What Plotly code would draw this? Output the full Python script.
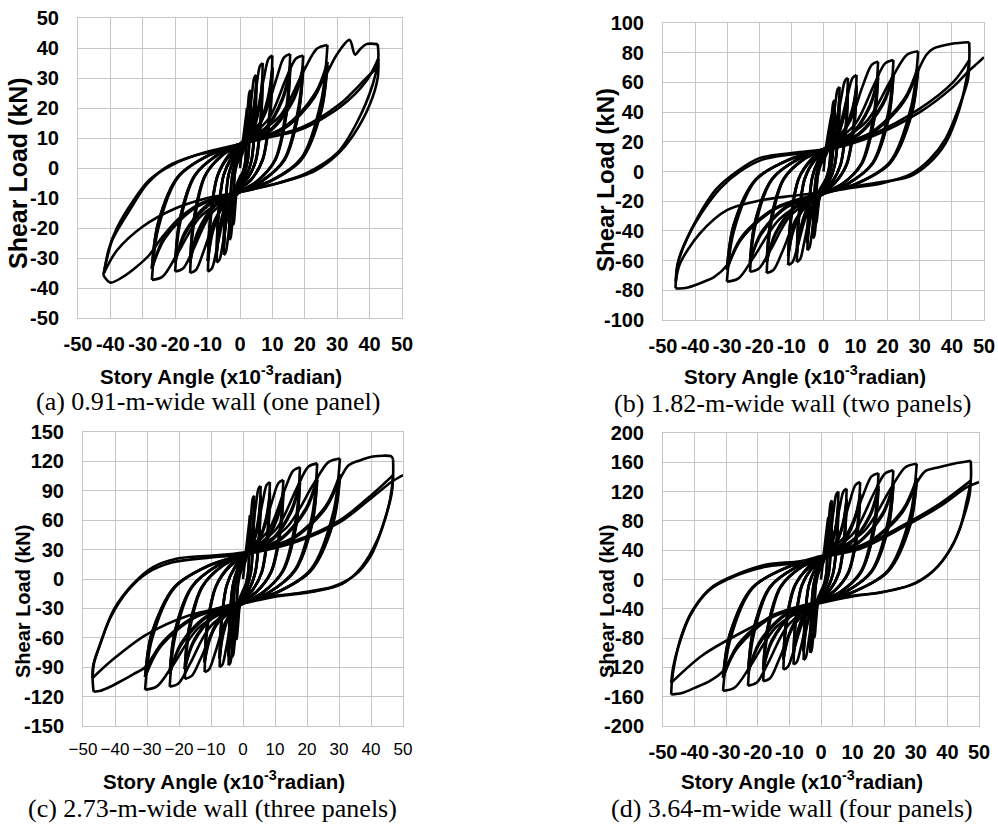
import plotly.graph_objects as go

# ---------------- data (story angle x1e-3 rad, shear load kN) ----------------
# each inner list is one loading branch, from one peak to the next
curve_a = [
 [(0,0),(0.8,8),(1.6,15),(2.2,20)],
 [(2.2,20),(2.05,11),(1.54,1.6),(0.77,-1.65),(0,-3),(-1.0,-7.5),(-1.58,-14.5),(-1.94,-18.4),(-2.2,-19)],
 [(-2.2,-19),(-2.05,-10.5),(-1.54,-1.5),(-0.77,1.65),(0,3),(1.1,5.9),(1.87,11.7),(2.2,17.5)],
 [(2.2,17.5),(2.05,9.6),(1.54,1.4),(0.77,-1.65),(0,-3),(-1.1,-5.8),(-1.87,-11.4),(-2.2,-17)],
 [(-2.2,-17),(-2.05,-9.4),(-1.54,-1.4),(-0.77,2.2),(0,4),(1.49,10.2),(2.38,19.8),(2.9,25.2),(3.3,26)],
 [(3.3,26),(3.07,14.3),(2.31,2.1),(1.16,-2.2),(0,-4),(-1.49,-9.6),(-2.38,-18.4),(-2.9,-23.3),(-3.3,-24)],
 [(-3.3,-24),(-3.07,-13.2),(-2.31,-1.9),(-1.16,2.2),(0,4),(1.65,7.8),(2.8,15.4),(3.3,23)],
 [(3.3,23),(3.07,12.7),(2.31,1.8),(1.16,-2.2),(0,-4),(-1.65,-7.4),(-2.8,-14.2),(-3.3,-21)],
 [(-3.3,-21),(-3.07,-11.6),(-2.31,-1.7),(-1.16,2.75),(0,5),(2.25,12.3),(3.6,23.7),(4.4,30.1),(5,31)],
 [(5,31),(4.65,17),(3.5,2.5),(1.75,-2.75),(0,-5),(-2.25,-11.7),(-3.6,-22.3),(-4.4,-28.1),(-5,-29)],
 [(-5,-29),(-4.65,-16),(-3.5,-2.3),(-1.75,2.75),(0,5),(2.5,9.5),(4.25,18.5),(5,27.5)],
 [(5,27.5),(4.65,15.1),(3.5,2.2),(1.75,-2.75),(0,-5),(-2.5,-9.2),(-4.25,-17.6),(-5,-26)],
 [(-5,-26),(-4.65,-14.3),(-3.5,-2.1),(-1.75,3.3),(0,6),(3.15,14.1),(5.04,26.9),(6.16,34),(7,35)],
 [(7,35),(6.5,19.3),(4.9,2.8),(2.45,-3.3),(0,-6),(-3.24,-13.1),(-5.18,-24.4),(-6.34,-30.6),(-7.2,-31.5)],
 [(-7.2,-31.5),(-6.7,-17.3),(-5.04,-2.5),(-2.52,3.3),(0,6),(3.5,11),(5.95,21),(7,31)],
 [(7,31),(6.5,17),(4.9,2.5),(2.45,-3.3),(0,-6),(-3.6,-10.5),(-6.12,-19.5),(-7.2,-28.5)],
 [(-7.2,-28.5),(-6.7,-15.7),(-5.04,-2.3),(-2.52,3.85),(0,7),(4.5,15.5),(7.2,29),(8.8,36.4),(10,37.5)],
 [(10,37.5),(9.3,20.6),(7,3),(3.5,-3.85),(0,-7),(-4.46,-14.7),(-7.13,-26.8),(-8.7,-33.5),(-9.9,-34.5)],
 [(-9.9,-34.5),(-9.2,-19),(-6.93,-2.8),(-3.47,3.85),(0,7),(5,12.3),(8.5,22.9),(10,33.5)],
 [(10,33.5),(9.3,18.4),(7,2.7),(3.5,-3.85),(0,-7),(-4.95,-11.8),(-8.4,-21.4),(-9.9,-31)],
 [(-9.9,-31),(-9.2,-17),(-6.93,-2.5),(-3.47,4.4),(0,8),(6.98,16.4),(11.2,29.6),(13.6,36.9),(15.5,38)],
 [(15.5,38),(14.4,20.9),(10.9,3),(5.4,-4.4),(0,-8),(-6.93,-15.6),(-11.1,-27.4),(-13.6,-34),(-15.4,-35)],
 [(-15.4,-35),(-14.3,-19.3),(-10.8,-2.8),(-5.4,4.4),(0,8),(7.75,13.2),(13.2,23.6),(15.5,34)],
 [(15.5,34),(14.4,18.7),(10.9,2.7),(5.4,-4.4),(0,-8),(-7.7,-12.7),(-13.1,-22.1),(-15.4,-31.5)],
 [(-15.4,-31.5),(-14.3,-17.3),(-10.8,-2.5),(-5.4,4.4),(0,8),(8.8,16.3),(14,29.2),(17.2,36.4),(19.5,37.5)],
 [(19.5,37.5),(18.1,20.6),(13.7,3),(6.8,-4.4),(0,-8),(-9,-15.4),(-14.4,-27.1),(-17.6,-33.5),(-20,-34.5)],
 [(-20,-34.5),(-18.6,-19),(-14,-2.8),(-7,4.4),(0,8),(9.75,13.2),(16.6,23.6),(19.5,34)],
 [(19.5,34),(18.1,18.7),(13.7,2.7),(6.8,-4.4),(0,-8),(-10,-12.7),(-17,-22.1),(-20,-31.5)],
 [(-20,-31.5),(-18.6,-17.3),(-14,-2.5),(-7,4.4),(0,8),(12.2,17.2),(19.4,31.8),(23.8,39.8),(27,41)],
 [(27,41),(25.1,22.6),(18.9,3.3),(9.45,-4.4),(0,-8),(-12.2,-16.2),(-19.6,-29.1),(-23.9,-36.2),(-27.2,-37.3)],
 [(-27.2,-37.3),(-25.3,-20.5),(-19,-3),(-9.5,4.4),(0,8),(13.5,13.5),(23,24.4),(27,35.4)],
 [(27,35.4),(25.1,19.5),(18.9,2.8),(9.45,-4.4),(0,-8),(-13.6,-13.1),(-23.1,-23.3),(-27.2,-33.5)],
 [(-27.2,-33.5),(-25.3,-18.4),(-19,-2.7),(-9.5,4.4),(0,8),(12,12.5),(20,20),(26,30),(30,38),(33.8,42.7),(35.5,37.8),(37,39.5),(39,41.3),(42.5,41.3)],
 [(42.5,41.3),(42.7,37),(41,28),(36,15),(30,5),(20,-2),(10,-5.5),(0,-8),(-10,-11),(-18,-16),(-24,-23),(-28,-29),(-32,-33),(-36,-36.2),(-40,-38.2),(-42.2,-35.7)],
 [(-42.2,-35.7),(-41,-30),(-39.4,-24),(-34,-14),(-28.8,-5.5),(-22.6,0.4),(-13.4,4.3),(-4,6.5),(0,8),(8,10),(18.5,12.7),(31,20.4),(39,29),(42.7,36.5)],
 [(42.7,36.5),(42.5,30),(40,21),(35,11),(30,4.5),(23,-1),(12,-5),(0,-8),(-10,-10),(-20,-13.5),(-30,-19.5),(-38,-27.5),(-42,-35)],
 [(-42,-35),(-40.5,-27),(-38,-20),(-33,-11),(-28,-4),(-21,1),(-12,4.8),(0,8),(9,10.5),(19,13.5),(31,21.5),(39,30),(42.8,34)],
]
# third cycles at the intermediate amplitudes
cycle3_a = [
 [(-5,-26),(-4.65,-14.5),(-3.5,-2),(-1.75,2.6),(0,4.8),(2.5,9),(4.25,17.8),(5,26.5)],
 [(5,26.5),(4.65,14.6),(3.5,2.1),(1.75,-2.6),(0,-4.8),(-2.5,-8.9),(-4.25,-17),(-5,-26)],
 [(-7.2,-28.5),(-6.7,-15.7),(-5.04,-2.3),(-2.52,3.1),(0,5.7),(3.5,10.5),(5.95,20.2),(7,30)],
 [(7,30),(6.5,16.5),(4.9,2.4),(2.45,-3.1),(0,-5.7),(-3.6,-10),(-6.12,-18.8),(-7.2,-28.5)],
 [(-9.9,-31),(-9.2,-17),(-6.93,-2.5),(-3.47,3.7),(0,6.7),(5,11.8),(8.5,22),(10,32.5)],
 [(10,32.5),(9.3,17.9),(7,2.6),(3.5,-3.7),(0,-6.7),(-4.95,-11.3),(-8.4,-20.6),(-9.9,-31)],
 [(-15.4,-31.5),(-14.3,-17.3),(-10.8,-2.5),(-5.4,4.2),(0,7.7),(7.75,12.7),(13.2,22.8),(15.5,33)],
 [(15.5,33),(14.4,18.2),(10.9,2.6),(5.4,-4.2),(0,-7.7),(-7.7,-12.2),(-13.1,-21.3),(-15.4,-31.5)],
 [(-20,-31.5),(-18.6,-17.3),(-14,-2.5),(-7,4.2),(0,7.7),(9.75,12.7),(16.6,22.8),(19.5,33)],
 [(19.5,33),(18.1,18.2),(13.7,2.6),(6.8,-4.2),(0,-7.7),(-10,-12.2),(-17,-21.3),(-20,-31.5)],
 [(-27.2,-33.5),(-25.3,-18.4),(-19,-2.7),(-9.5,4.2),(0,7.7),(13.5,13),(23,23.6),(27,34.3)],
 [(27,34.3),(25.1,18.9),(18.9,2.7),(9.45,-4.2),(0,-7.7),(-13.6,-12.6),(-23.1,-22.5),(-27.2,-33.5)],
]

curve_b = [
 [(0,0),(0.9,18),(1.8,30),(2.5,38)],
 [(2.5,38),(2.33,20.9),(1.75,3),(0.88,-4.4),(0,-8),(-1.13,-15.6),(-1.8,-27.4),(-2.2,-34),(-2.5,-35)],
 [(-2.5,-35),(-2.33,-19.3),(-1.75,-2.8),(-0.88,4.4),(0,8),(1.25,13.2),(2.13,23.6),(2.5,34)],
 [(2.5,34),(2.33,18.7),(1.75,2.7),(0.88,-4.4),(0,-8),(-1.25,-12.6),(-2.13,-21.8),(-2.5,-31)],
 [(-2.5,-31),(-2.33,-17),(-1.75,-2.5),(-0.88,5.5),(0,10),(1.58,20.6),(2.52,37.4),(3.08,46.6),(3.5,48)],
 [(3.5,48),(3.26,26.4),(2.45,3.8),(1.23,-5.5),(0,-10),(-1.49,-19.8),(-2.38,-35.2),(-2.9,-43.7),(-3.3,-45)],
 [(-3.3,-45),(-3.07,-24.8),(-2.31,-3.6),(-1.16,5.5),(0,10),(1.75,16.6),(2.98,29.8),(3.5,43)],
 [(3.5,43),(3.26,23.7),(2.45,3.4),(1.23,-5.5),(0,-10),(-1.65,-16),(-2.8,-28),(-3.3,-40)],
 [(-3.3,-40),(-3.07,-22),(-2.31,-3.2),(-1.16,6.6),(0,12),(2.25,24.6),(3.6,44.4),(4.4,55.3),(5,57)],
 [(5,57),(4.65,31.4),(3.5,4.6),(1.75,-6.6),(0,-12),(-2.25,-23.5),(-3.6,-41.5),(-4.4,-51.4),(-5,-53)],
 [(-5,-53),(-4.65,-29.2),(-3.5,-4.2),(-1.75,6.6),(0,12),(2.5,19.8),(4.25,35.4),(5,51)],
 [(5,51),(4.65,28),(3.5,4.1),(1.75,-6.6),(0,-12),(-2.5,-19.2),(-4.25,-33.6),(-5,-48)],
 [(-5,-48),(-4.65,-26.4),(-3.5,-3.8),(-1.75,7.2),(0,13),(3.42,27),(5.47,49),(6.69,61.1),(7.6,63)],
 [(7.6,63),(7.07,34.7),(5.32,5),(2.66,-7.2),(0,-13),(-3.74,-26.4),(-5.98,-47.6),(-7.3,-59.2),(-8.3,-61)],
 [(-8.3,-61),(-7.72,-33.6),(-5.81,-4.9),(-2.9,7.2),(0,13),(3.8,21.6),(6.46,38.8),(7.6,56)],
 [(7.6,56),(7.07,30.8),(5.32,4.5),(2.66,-7.2),(0,-13),(-4.15,-21.4),(-7.06,-38.2),(-8.3,-55)],
 [(-8.3,-55),(-7.72,-30.3),(-5.81,-4.4),(-2.9,7.7),(0,14),(4.64,28.3),(7.42,50.7),(9.06,63),(10.3,65)],
 [(10.3,65),(9.58,35.8),(7.21,5.2),(3.6,-7.7),(0,-14),(-4.95,-27.7),(-7.92,-49.3),(-9.68,-61.1),(-11,-63)],
 [(-11,-63),(-10.2,-34.7),(-7.7,-5),(-3.85,7.7),(0,14),(5.15,22.8),(8.76,40.4),(10.3,58)],
 [(10.3,58),(9.58,31.9),(7.21,4.6),(3.6,-7.7),(0,-14),(-5.5,-22.6),(-9.35,-39.8),(-11,-57)],
 [(-11,-57),(-10.2,-31.4),(-7.7,-4.6),(-3.85,8.3),(0,15),(7.65,31.5),(12.2,57.5),(15,71.8),(17,74)],
 [(17,74),(15.8,40.7),(11.9,5.9),(5.95,-8.3),(0,-15),(-7.97,-30),(-12.7,-53.4),(-15.6,-66.3),(-17.7,-68.4)],
 [(-17.7,-68.4),(-16.5,-37.6),(-12.4,-5.5),(-6.2,8.3),(0,15),(8.5,25),(14.5,45),(17,65)],
 [(17,65),(15.8,35.8),(11.9,5.2),(5.95,-8.3),(0,-15),(-8.85,-24.2),(-15,-42.6),(-17.7,-61)],
 [(-17.7,-61),(-16.5,-33.6),(-12.4,-4.9),(-6.2,8.3),(0,15),(9.8,31.8),(15.7,58.2),(19.2,72.8),(21.8,75)],
 [(21.8,75),(20.3,41.3),(15.3,6),(7.6,-8.3),(0,-15),(-10.3,-29.7),(-16.5,-52.8),(-20.2,-65.5),(-22.9,-67.5)],
 [(-22.9,-67.5),(-21.3,-37.1),(-16,-5.4),(-8,8.3),(0,15),(10.9,25.4),(18.5,46.2),(21.8,67)],
 [(21.8,67),(20.3,36.9),(15.3,5.4),(7.6,-8.3),(0,-15),(-11.5,-24.2),(-19.5,-42.6),(-22.9,-61)],
 [(-22.9,-61),(-21.3,-33.6),(-16,-4.9),(-8,8.3),(0,15),(13.3,33.5),(21.2,62.5),(26,78.6),(29.5,81)],
 [(29.5,81),(27.4,44.6),(20.7,6.5),(10.3,-8.3),(0,-15),(-13.5,-31.6),(-21.7,-57.6),(-26.5,-72),(-30.1,-74.2)],
 [(-30.1,-74.2),(-28,-40.8),(-21.1,-5.9),(-10.5,8.3),(0,15),(14.75,26.2),(25.1,48.6),(29.5,71)],
 [(29.5,71),(27.4,39),(20.7,5.7),(10.3,-8.3),(0,-15),(-15,-25.2),(-25.6,-45.6),(-30.1,-66)],
 [(-30.1,-66),(-28,-36),(-21.1,-5.3),(-10.5,8.3),(0,15),(14.75,26),(25.1,48),(29.5,68),(32,78.5),(34.2,82.7),(40,86),(45.4,87)],
 [(45.4,87),(45.4,75),(44.5,62),(42.2,41),(38,19),(32.8,5.4),(26.6,-3.6),(18.3,-7),(9,-10.3),(0,-14),(-15,-25),(-25.6,-45),(-30,-63),(-34,-71),(-38.5,-75.3),(-43,-78.5),(-46.1,-78.7)],
 [(-46.1,-78.7),(-45.6,-64),(-43.5,-50),(-39,-30),(-33.5,-12),(-27,0),(-20,9),(-10,12.5),(0,15),(14.5,24.4),(30,42.4),(40.4,60.2),(45.4,75)],
 [(45.4,75),(45,62),(42.5,45),(38,22),(33,8),(27,-2),(18,-8),(9,-11),(0,-14),(-10,-16.5),(-19.8,-19.5),(-30.1,-26),(-38.5,-41.7),(-44.7,-62),(-46,-74)],
 [(-46,-74),(-45.2,-60),(-42.5,-45),(-38,-28),(-32,-11),(-26,0),(-19,8),(-10,11.5),(0,14),(14.5,23),(30,40),(40.4,57),(45.4,68),(48,73),(50,77)],
]
cycle3_b = [
 [(-5,-48),(-4.65,-26.4),(-3.5,-3.8),(-1.75,6.3),(0,11.5),(2.5,19),(4.25,34.3),(5,49.5)],
 [(5,49.5),(4.65,27.2),(3.5,4),(1.75,-6.3),(0,-11.5),(-2.5,-18.5),(-4.25,-32.6),(-5,-48)],
 [(-8.3,-55),(-7.72,-30.3),(-5.81,-4.4),(-2.9,6.9),(0,12.5),(3.8,20.8),(6.46,37.7),(7.6,54.5)],
 [(7.6,54.5),(7.07,30),(5.32,4.4),(2.66,-6.9),(0,-12.5),(-4.15,-20.7),(-7.06,-37.1),(-8.3,-55)],
 [(-11,-57),(-10.2,-31.4),(-7.7,-4.6),(-3.85,7.4),(0,13.5),(5.15,22),(8.76,39.3),(10.3,56.5)],
 [(10.3,56.5),(9.58,31.1),(7.21,4.5),(3.6,-7.4),(0,-13.5),(-5.5,-21.9),(-9.35,-38.7),(-11,-57)],
 [(-17.7,-61),(-16.5,-33.6),(-12.4,-4.9),(-6.2,8),(0,14.5),(8.5,24.2),(14.5,43.6),(17,63)],
 [(17,63),(15.8,34.7),(11.9,5),(5.95,-8),(0,-14.5),(-8.85,-23.5),(-15,-41.4),(-17.7,-61)],
 [(-22.9,-61),(-21.3,-33.6),(-16,-4.9),(-8,8),(0,14.5),(10.9,24.6),(18.5,44.8),(21.8,65)],
 [(21.8,65),(20.3,35.8),(15.3,5.2),(7.6,-8),(0,-14.5),(-11.5,-23.5),(-19.5,-41.4),(-22.9,-61)],
 [(-30.1,-66),(-28,-36.3),(-21.1,-5.3),(-10.5,8),(0,14.5),(14.75,25.4),(25.1,47.2),(29.5,69)],
 [(29.5,69),(27.4,37.9),(20.7,5.5),(10.3,-8),(0,-14.5),(-15,-24.5),(-25.6,-44.3),(-30.1,-66)],
]

curve_c = [
 [(0,0),(0.8,25),(1.6,48),(2.2,65)],
 [(2.2,65),(2.05,35.8),(1.54,5.2),(0.77,-6.6),(0,-12),(-0.99,-26),(-1.58,-48),(-1.94,-60.1),(-2.2,-62)],
 [(-2.2,-62),(-2.05,-34.1),(-1.54,-5),(-0.77,6.6),(0,12),(1.1,21.2),(1.87,39.6),(2.2,58)],
 [(2.2,58),(2.05,31.9),(1.54,4.6),(0.77,-6.6),(0,-12),(-1.1,-20.6),(-1.87,-37.8),(-2.2,-55)],
 [(-2.2,-55),(-2.05,-30.3),(-1.54,-4.4),(-0.77,8.8),(0,16),(1.58,35.3),(2.52,65.7),(3.08,82.5),(3.5,85)],
 [(3.5,85),(3.26,46.8),(2.45,6.8),(1.23,-8.8),(0,-16),(-1.58,-33.9),(-2.52,-62.1),(-3.08,-77.6),(-3.5,-80)],
 [(-3.5,-80),(-3.26,-44),(-2.45,-6.4),(-1.23,8.8),(0,16),(1.75,28),(2.98,52),(3.5,76)],
 [(3.5,76),(3.26,41.8),(2.45,6.1),(1.23,-8.8),(0,-16),(-1.75,-27),(-2.98,-49),(-3.5,-71)],
 [(-3.5,-71),(-3.26,-39),(-2.45,-5.7),(-1.23,10.5),(0,19),(2.48,40.3),(3.96,73.7),(4.84,92.2),(5.5,95)],
 [(5.5,95),(5.12,52.3),(3.85,7.6),(1.93,-10.5),(0,-19),(-2.03,-38.3),(-3.24,-68.7),(-3.96,-85.4),(-4.5,-88)],
 [(-4.5,-88),(-4.19,-48.4),(-3.15,-7),(-1.58,10.5),(0,19),(2.75,32.2),(4.68,58.6),(5.5,85)],
 [(5.5,85),(5.12,46.8),(3.85,6.8),(1.93,-10.5),(0,-19),(-2.25,-31),(-3.83,-55),(-4.5,-79)],
 [(-4.5,-79),(-4.19,-43.5),(-3.15,-6.3),(-1.58,11.6),(0,21),(3.78,42.8),(6.05,77.2),(7.39,96),(8.4,99)],
 [(8.4,99),(7.81,54.5),(5.88,7.9),(2.94,-11.6),(0,-21),(-3.29,-40.3),(-5.26,-70.7),(-6.42,-87.3),(-7.3,-90)],
 [(-7.3,-90),(-6.79,-49.5),(-5.11,-7.2),(-2.56,11.6),(0,21),(4.2,34.4),(7.14,61.2),(8.4,88)],
 [(8.4,88),(7.81,48.4),(5.88,7),(2.94,-11.6),(0,-21),(-3.65,-33),(-6.21,-57),(-7.3,-81)],
 [(-7.3,-81),(-6.79,-44.6),(-5.11,-6.5),(-2.56,12.7),(0,23),(5.67,44.8),(9.07,79.2),(11.1,98),(12.6,101)],
 [(12.6,101),(11.7,55.6),(8.82,8.1),(4.41,-12.7),(0,-23),(-5.4,-43.2),(-8.64,-74.8),(-10.6,-92.2),(-12,-95)],
 [(-12,-95),(-11.2,-52.3),(-8.4,-7.6),(-4.2,12.7),(0,23),(6.3,36.4),(10.7,63.2),(12.6,90)],
 [(12.6,90),(11.7,49.5),(8.82,7.2),(4.41,-12.7),(0,-23),(-6,-35.4),(-10.2,-60.2),(-12,-85)],
 [(-12,-85),(-11.2,-46.8),(-8.4,-6.8),(-4.2,13.8),(0,25),(8.01,49.9),(12.8,89.1),(15.7,110.6),(17.8,114)],
 [(17.8,114),(16.6,62.7),(12.5,9.1),(6.23,-13.8),(0,-25),(-8.19,-46.6),(-13.1,-80.4),(-16,-98.9),(-18.2,-102)],
 [(-18.2,-102),(-16.9,-56.1),(-12.7,-8.2),(-6.37,13.8),(0,25),(8.9,40.2),(15.1,70.6),(17.8,101)],
 [(17.8,101),(16.6,55.6),(12.5,8.1),(6.23,-13.8),(0,-25),(-9.1,-38.4),(-15.5,-65.2),(-18.2,-92)],
 [(-18.2,-92),(-16.9,-50.6),(-12.7,-7.4),(-6.37,13.8),(0,25),(10.4,51),(16.7,92),(20.4,114.5),(23.2,118)],
 [(23.2,118),(21.6,64.9),(16.2,9.4),(8.12,-13.8),(0,-25),(-10.3,-48.8),(-16.5,-86.2),(-20.2,-106.7),(-22.9,-110)],
 [(-22.9,-110),(-21.3,-60.5),(-16,-8.8),(-8.02,13.8),(0,25),(11.6,40.8),(19.7,72.4),(23.2,104)],
 [(23.2,104),(21.6,57.2),(16.2,8.3),(8.12,-13.8),(0,-25),(-11.5,-39.4),(-19.5,-68.2),(-22.9,-97)],
 [(-22.9,-97),(-21.3,-53.4),(-16,-7.8),(-8.02,13.8),(0,25),(13.6,52.4),(21.8,95.6),(26.7,119.3),(30.3,123)],
 [(30.3,123),(28.2,67.7),(21.2,9.8),(10.6,-13.8),(0,-25),(-13.8,-49.6),(-22,-88.4),(-26.9,-109.6),(-30.6,-113)],
 [(-30.6,-113),(-28.5,-62.2),(-21.4,-9),(-10.7,13.8),(0,25),(15.2,41.4),(25.8,74.2),(30.3,107)],
 [(30.3,107),(28.2,58.9),(21.2,8.6),(10.6,-13.8),(0,-25),(-15.3,-40),(-26,-70),(-30.6,-100)],
 [(-30.6,-100),(-28.5,-55),(-21.4,-8),(-10.7,13.8),(0,25),(15.2,41),(25.8,73),(30.3,102),(33,116),(36.5,121),(40.6,125),(46.4,125),(46.9,122)],
 [(46.9,122),(46.9,106),(46,82),(43.5,52),(40,24),(35,4),(28,-8),(18,-14),(8,-18),(0,-23),(-15.3,-39),(-26,-69),(-30.6,-90),(-34.2,-97),(-38,-104),(-41.5,-110),(-44.5,-114),(-46.7,-115)],
 [(-46.7,-115),(-47,-100),(-46.5,-85),(-44.6,-66),(-40.5,-32),(-34.3,-4.8),(-28.1,12.2),(-20.8,20.7),(-9.4,24),(0,27),(16.7,39.5),(30.3,60),(40.6,87),(46.9,106)],
 [(46.9,106),(46.5,88),(45,68),(42,40),(37,12),(31,-5),(22,-13),(10,-18),(0,-25),(-16.7,-37),(-30.3,-57),(-40.6,-82),(-47,-101)],
 [(-47,-101),(-46.8,-88),(-45,-70),(-41.5,-40),(-36,-12),(-30,6),(-22,17),(-10,22),(0,25),(16.7,38),(30.3,58),(40.6,84),(46.4,99),(50,106)],
]
cycle3_c = [
 [(-4.5,-79),(-4.19,-43.5),(-3.15,-6.3),(-1.58,10.2),(0,18.4),(2.75,31.2),(4.68,56.8),(5.5,82)],
 [(5.5,82),(5.12,45.1),(3.85,6.6),(1.93,-10.2),(0,-18.4),(-2.25,-30),(-3.83,-53.3),(-4.5,-79)],
 [(-7.3,-81),(-6.79,-44.6),(-5.11,-6.5),(-2.56,11.3),(0,20.4),(4.2,33.3),(7.14,59.3),(8.4,85)],
 [(8.4,85),(7.81,46.8),(5.88,6.8),(2.94,-11.3),(0,-20.4),(-3.65,-32),(-6.21,-55.3),(-7.3,-81)],
 [(-12,-85),(-11.2,-46.8),(-8.4,-6.8),(-4.2,12.3),(0,22.3),(6.3,35.3),(10.7,61.3),(12.6,87)],
 [(12.6,87),(11.7,47.9),(8.82,7),(4.41,-12.3),(0,-22.3),(-6,-34.4),(-10.2,-58.4),(-12,-85)],
 [(-18.2,-92),(-16.9,-50.6),(-12.7,-7.4),(-6.37,13.4),(0,24.3),(8.9,39),(15.1,68.5),(17.8,98)],
 [(17.8,98),(16.6,53.9),(12.5,7.8),(6.23,-13.4),(0,-24.3),(-9.1,-37.3),(-15.5,-63.3),(-18.2,-92)],
 [(-22.9,-97),(-21.3,-53.4),(-16,-7.8),(-8.02,13.4),(0,24.3),(11.6,39.6),(19.7,70.2),(23.2,101)],
 [(23.2,101),(21.6,55.5),(16.2,8.1),(8.12,-13.4),(0,-24.3),(-11.5,-38.2),(-19.5,-66.2),(-22.9,-97)],
 [(-30.6,-100),(-28.5,-55),(-21.4,-8),(-10.7,13.4),(0,24.3),(15.2,40.2),(25.8,72),(30.3,104)],
 [(30.3,104),(28.2,57.2),(21.2,8.3),(10.6,-13.4),(0,-24.3),(-15.3,-38.8),(-26,-68),(-30.6,-100)],
]

curve_d = [
 [(0,0),(0.8,32),(1.6,62),(2.3,85)],
 [(2.3,85),(2.14,46.8),(1.61,6.8),(0.8,-8.8),(0,-16),(-1.04,-33.9),(-1.66,-62.1),(-2.02,-77.6),(-2.3,-80)],
 [(-2.3,-80),(-2.14,-44),(-1.61,-6.4),(-0.8,8.8),(0,16),(1.15,27.8),(1.96,51.4),(2.3,75)],
 [(2.3,75),(2.14,41.3),(1.61,6),(0.8,-8.8),(0,-16),(-1.15,-26.8),(-1.96,-48.4),(-2.3,-70)],
 [(-2.3,-70),(-2.14,-38.5),(-1.61,-5.6),(-0.8,11),(0,20),(1.58,44.6),(2.52,83.4),(3.08,104.8),(3.5,108)],
 [(3.5,108),(3.26,59.4),(2.45,8.6),(1.23,-11),(0,-20),(-1.53,-42.4),(-2.45,-77.6),(-2.99,-97),(-3.4,-100)],
 [(-3.4,-100),(-3.16,-55),(-2.38,-8),(-1.19,11),(0,20),(1.75,35.2),(2.98,65.6),(3.5,96)],
 [(3.5,96),(3.26,52.8),(2.45,7.7),(1.23,-11),(0,-20),(-1.7,-33.8),(-2.89,-61.4),(-3.4,-89)],
 [(-3.4,-89),(-3.16,-49),(-2.38,-7.1),(-1.19,13.2),(0,24),(2.48,50.9),(3.96,93.1),(4.84,116.4),(5.5,120)],
 [(5.5,120),(5.12,66),(3.85,9.6),(1.93,-13.2),(0,-24),(-2.48,-48.1),(-3.96,-85.9),(-4.84,-106.7),(-5.5,-110)],
 [(-5.5,-110),(-5.12,-60.5),(-3.85,-8.8),(-1.93,13.2),(0,24),(2.75,40.4),(4.68,73.2),(5.5,106)],
 [(5.5,106),(5.12,58.3),(3.85,8.5),(1.93,-13.2),(0,-24),(-2.75,-38.8),(-4.68,-68.4),(-5.5,-98)],
 [(-5.5,-98),(-5.12,-53.9),(-3.85,-7.8),(-1.93,14.3),(0,26),(3.65,53.4),(5.83,96.6),(7.13,120.3),(8.1,124)],
 [(8.1,124),(7.53,68.2),(5.67,9.9),(2.84,-14.3),(0,-26),(-3.92,-51.2),(-6.26,-90.8),(-7.66,-112.5),(-8.7,-116)],
 [(-8.7,-116),(-8.09,-63.8),(-6.09,-9.3),(-3.05,14.3),(0,26),(4.05,42.8),(6.89,76.4),(8.1,110)],
 [(8.1,110),(7.53,60.5),(5.67,8.8),(2.84,-14.3),(0,-26),(-4.35,-41.4),(-7.4,-72.2),(-8.7,-103)],
 [(-8.7,-103),(-8.09,-56.7),(-6.09,-8.2),(-3.05,15.4),(0,28),(5.58,57.4),(8.93,103.6),(10.9,129),(12.4,133)],
 [(12.4,133),(11.5,73.2),(8.68,10.6),(4.34,-15.4),(0,-28),(-5.36,-54.6),(-8.57,-96.4),(-10.5,-119.3),(-11.9,-123)],
 [(-11.9,-123),(-11.1,-67.7),(-8.33,-9.8),(-4.17,15.4),(0,28),(6.2,45.8),(10.5,81.4),(12.4,117)],
 [(12.4,117),(11.5,64.4),(8.68,9.4),(4.34,-15.4),(0,-28),(-5.95,-44.2),(-10.1,-76.6),(-11.9,-109)],
 [(-11.9,-109),(-11.1,-60),(-8.33,-8.7),(-4.17,16.5),(0,30),(8.19,62.2),(13.1,112.8),(16,140.7),(18.2,145)],
 [(18.2,145),(16.9,79.8),(12.7,11.6),(6.37,-16.5),(0,-30),(-8.24,-60.5),(-13.2,-108.5),(-16.1,-134.8),(-18.3,-139)],
 [(-18.3,-139),(-17,-76.5),(-12.8,-11.1),(-6.4,16.5),(0,30),(9.1,49.6),(15.5,88.8),(18.2,128)],
 [(18.2,128),(16.9,70.4),(12.7,10.2),(6.37,-16.5),(0,-30),(-9.15,-48.6),(-15.6,-85.8),(-18.3,-123)],
 [(-18.3,-123),(-17,-67.7),(-12.8,-9.8),(-6.4,16.5),(0,30),(10.3,63.3),(16.5,115.7),(20.2,144.5),(22.9,149)],
 [(22.9,149),(21.3,82),(16,11.9),(8.02,-16.5),(0,-30),(-10.4,-62.2),(-16.6,-112.8),(-20.3,-140.7),(-23.1,-145)],
 [(-23.1,-145),(-21.5,-79.8),(-16.2,-11.6),(-8.09,16.5),(0,30),(11.5,50.2),(19.5,90.6),(22.9,131)],
 [(22.9,131),(21.3,72),(16,10.5),(8.02,-16.5),(0,-30),(-11.6,-49.6),(-19.6,-88.8),(-23.1,-128)],
 [(-23.1,-128),(-21.5,-70.4),(-16.2,-10.2),(-8.09,16.5),(0,30),(13.6,65.8),(21.8,122.2),(26.7,153.3),(30.3,158)],
 [(30.3,158),(28.2,86.9),(21.2,12.6),(10.6,-16.5),(0,-30),(-14,-64.2),(-22.3,-117.8),(-27.3,-147.4),(-31,-152)],
 [(-31,-152),(-28.8,-83.6),(-21.7,-12.2),(-10.9,16.5),(0,30),(15.2,51.6),(25.8,94.8),(30.3,138)],
 [(30.3,138),(28.2,75.9),(21.2,11),(10.6,-16.5),(0,-30),(-15.5,-50.8),(-26.4,-92.4),(-31,-134)],
 [(-31,-134),(-28.8,-74),(-21.7,-11),(-10.9,16.5),(0,30),(15.2,51),(25.8,93),(30.3,132),(33,148),(37,153),(42,158),(47.4,162)],
 [(47.4,162),(47.4,135),(46,105),(44,70),(40,35),(35,10),(28,-8),(18,-18),(8,-23),(0,-30),(-15.5,-51),(-26.4,-93),(-31,-125),(-35,-138),(-40,-148),(-44,-155),(-47.4,-157)],
 [(-47.4,-157),(-47.2,-140),(-46.3,-113.6),(-44.2,-77),(-40.5,-41),(-34.1,-9),(-25.6,9),(-17.2,20.5),(-6.6,25),(0,32),(12.4,44),(25,71.7),(37.7,103.6),(47.4,135)],
 [(47.4,135),(47,115),(45.5,90),(42,50),(37,18),(30,-5),(20,-17),(10,-23),(0,-32),(-12.4,-46),(-25,-72),(-37.7,-104),(-47.4,-141)],
 [(-47.4,-141),(-46.8,-120),(-45,-90),(-41.5,-50),(-35.5,-15),(-27,5),(-18,17),(-7,23),(0,30),(12.4,42),(25,69),(37.7,100),(46.2,126),(50,133)],
]
cycle3_d = [
 [(-5.5,-98),(-5.12,-53.9),(-3.85,-7.8),(-1.93,12.8),(0,23.3),(2.75,39.2),(4.68,71),(5.5,103)],
 [(5.5,103),(5.12,56.7),(3.85,8.2),(1.93,-12.8),(0,-23.3),(-2.75,-37.6),(-4.68,-66.4),(-5.5,-98)],
 [(-8.7,-103),(-8.09,-56.7),(-6.09,-8.2),(-3.05,13.9),(0,25.2),(4.05,41.5),(6.89,74.1),(8.1,107)],
 [(8.1,107),(7.53,58.9),(5.67,8.6),(2.84,-13.9),(0,-25.2),(-4.35,-40.2),(-7.4,-70),(-8.7,-103)],
 [(-11.9,-109),(-11.1,-60),(-8.33,-8.7),(-4.17,14.9),(0,27.2),(6.2,44.4),(10.5,79),(12.4,113.5)],
 [(12.4,113.5),(11.5,62.4),(8.68,9.1),(4.34,-14.9),(0,-27.2),(-5.95,-42.9),(-10.1,-74.3),(-11.9,-109)],
 [(-18.3,-123),(-17,-67.7),(-12.8,-9.8),(-6.4,16),(0,29.1),(9.1,48.1),(15.5,86.1),(18.2,124)],
 [(18.2,124),(16.9,68.2),(12.7,9.9),(6.37,-16),(0,-29.1),(-9.15,-47.1),(-15.6,-83.2),(-18.3,-123)],
 [(-23.1,-128),(-21.5,-70.4),(-16.2,-10.2),(-8.09,16),(0,29.1),(11.5,48.7),(19.5,87.9),(22.9,127)],
 [(22.9,127),(21.3,69.9),(16,10.2),(8.02,-16),(0,-29.1),(-11.6,-48.1),(-19.6,-86.1),(-23.1,-128)],
 [(-31,-134),(-28.8,-73.7),(-21.7,-10.7),(-10.9,16),(0,29.1),(15.2,50),(25.8,92),(30.3,134)],
 [(30.3,134),(28.2,73.7),(21.2,10.7),(10.6,-16),(0,-29.1),(-15.5,-49.3),(-26.4,-89.6),(-31,-134)],
]

x_ticks = [-50, -40, -30, -20, -10, 0, 10, 20, 30, 40, 50]
x_text_hyphen = ["-50", "-40", "-30", "-20", "-10", "0", "10", "20", "30", "40", "50"]
x_text_minus = ["\u221250", "\u221240", "\u221230", "\u221220", "\u221210", "0", "10", "20", "30", "40", "50"]
y_ticks_a = [-50, -40, -30, -20, -10, 0, 10, 20, 30, 40, 50]
y_ticks_b = [-100, -80, -60, -40, -20, 0, 20, 40, 60, 80, 100]
y_ticks_c = [-150, -120, -90, -60, -30, 0, 30, 60, 90, 120, 150]
y_ticks_d = [-200, -160, -120, -80, -40, 0, 40, 80, 120, 160, 200]
captions = ["(a) 0.91-m-wide wall (one panel)", "(b) 1.82-m-wide wall (two panels)",
            "(c) 2.73-m-wide wall (three panels)", "(d) 3.64-m-wide wall (four panels)"]
x_title = "Story Angle (x10<sup>-3</sup>radian)"
y_title = "Shear Load (kN)"

# ---------------- layout helpers ----------------
W, H = 998, 826
SANS = "Liberation Sans, Arial, sans-serif"
SERIF = "Liberation Serif, Times New Roman, serif"
GRID = "#c6c6c6"


def px_x(p):
    return p / W


def px_y(p):
    return 1 - p / H


def flatten(*groups):
    xs, ys = [], []
    for branches in groups:
        for br in branches:
            for (x, y) in br:
                xs.append(x)
                ys.append(y)
            xs.append(None)
            ys.append(None)
    return xs, ys


panels = [
    dict(curve=(curve_a, cycle3_a), xd=(78, 402), yd=(18, 318), yt=y_ticks_a, xt=x_text_hyphen, xw="bold", xs=20,
         ytitle=(18, 173, 25), xtitle=(221, 375), cap=(208, 401)),
    dict(curve=(curve_b, cycle3_b), xd=(663, 984), yd=(23, 320), yt=y_ticks_b, xt=x_text_hyphen, xw="bold", xs=20,
         ytitle=(605, 180, 24), xtitle=(805, 375), cap=(792, 403)),
    dict(curve=(curve_c, cycle3_c), xd=(83, 403), yd=(432, 726), yt=y_ticks_c, xt=x_text_minus, xw="normal", xs=17,
         ytitle=(23, 602, 20), xtitle=(224, 780), cap=(212, 808)),
    dict(curve=(curve_d, cycle3_d), xd=(663, 979), yd=(433, 726), yt=y_ticks_d, xt=x_text_hyphen, xw="bold", xs=20,
         ytitle=(607, 602, 20), xtitle=(802, 780), cap=(792, 808)),
]

fig = go.Figure()
annotations = []
layout = dict(width=W, height=H, autosize=False, margin=dict(l=0, r=0, t=0, b=0),
              paper_bgcolor="white", plot_bgcolor="white", showlegend=False)

for i, p in enumerate(panels):
    n = "" if i == 0 else str(i + 1)
    xs, ys = flatten(*p["curve"])
    fig.add_trace(go.Scatter(x=xs, y=ys, mode="lines", connectgaps=False,
                             line=dict(color="black", width=2.6, shape="spline", smoothing=0.9),
                             xaxis="x" + n, yaxis="y" + n, hoverinfo="skip"))
    yt = p["yt"]
    layout["xaxis" + n] = dict(domain=[px_x(p["xd"][0]), px_x(p["xd"][1])], range=[-50, 50],
                               anchor="y" + n, tickmode="array", tickvals=x_ticks, ticktext=p["xt"],
                               tickangle=0, ticks="outside", ticklen=8, tickcolor="rgba(0,0,0,0)",
                               tickfont=dict(family=SANS, size=p["xs"], color="black", weight=p["xw"]),
                               showgrid=True, gridcolor=GRID, gridwidth=1, zeroline=False,
                               showline=True, linecolor=GRID, linewidth=1, mirror=True, automargin=False)
    layout["yaxis" + n] = dict(domain=[px_y(p["yd"][1]), px_y(p["yd"][0])], range=[yt[0], yt[-1]],
                               anchor="x" + n, tickmode="array", tickvals=yt, ticktext=[str(v) for v in yt],
                               ticks="outside", ticklen=14, tickcolor="rgba(0,0,0,0)",
                               tickfont=dict(family=SANS, size=20, color="black", weight="bold"),
                               showgrid=True, gridcolor=GRID, gridwidth=1, zeroline=False,
                               showline=True, linecolor=GRID, linewidth=1, mirror=True, automargin=False)
    tx, ty, tsz = p["ytitle"]
    annotations.append(dict(x=px_x(tx), y=px_y(ty), xref="paper", yref="paper", text=y_title,
                            textangle=-90, showarrow=False, xanchor="center", yanchor="middle",
                            font=dict(family=SANS, size=tsz, color="black", weight="bold")))
    annotations.append(dict(x=px_x(p["xtitle"][0]), y=px_y(p["xtitle"][1]), xref="paper", yref="paper",
                            text=x_title, showarrow=False, xanchor="center", yanchor="middle",
                            font=dict(family=SANS, size=20.5, color="black", weight="bold")))
    annotations.append(dict(x=px_x(p["cap"][0]), y=px_y(p["cap"][1]), xref="paper", yref="paper",
                            text=captions[i], showarrow=False, xanchor="center", yanchor="middle",
                            font=dict(family=SERIF, size=26, color="black")))

layout["annotations"] = annotations
fig.update_layout(**layout)
fig.write_html("out.html", config={"displayModeBar": False, "staticPlot": True})

# remove the default page margin so the figure sits at the window's top-left corner
with open("out.html", encoding="utf-8") as f:
    page = f.read()
page = page.replace("<head>", "<head><style>html,body{margin:0;padding:0;overflow:hidden;}</style>", 1)
with open("out.html", "w", encoding="utf-8") as f:
    f.write(page)
